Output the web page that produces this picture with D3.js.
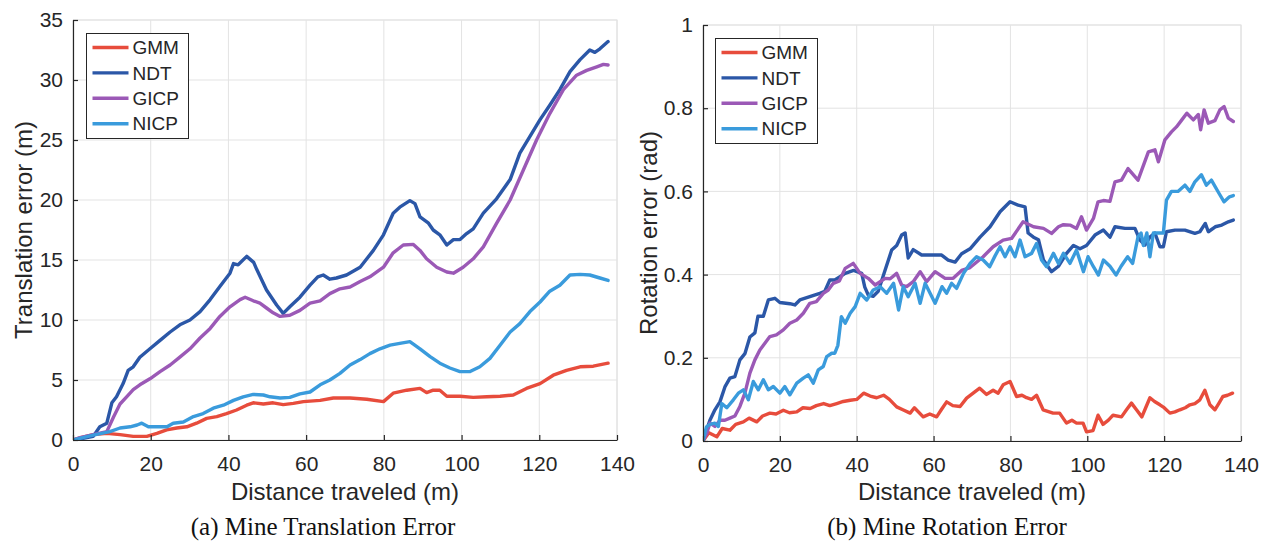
<!DOCTYPE html>
<html>
<head>
<meta charset="utf-8">
<script src="https://cdn.jsdelivr.net/npm/d3@7/dist/d3.min.js"></script>
<style>
  body { margin: 0; background: #fff; }
  svg text { font-family: "Liberation Sans", Arial, Helvetica, sans-serif; fill: #262626; }
  svg text.caption { font-family: "Liberation Serif", "Times New Roman", serif; fill: #111; }
</style>
</head>
<body>
<div id="chart"></div>
<script>
// series names + colours
const methods = ["GMM", "NDT", "GICP", "NICP"];
const colors = ["#e74c3c", "#2b57a7", "#9b59b6", "#3a9bdc"];

// ticks
const xTicks = [0, 20, 40, 60, 80, 100, 120, 140];
const yTicksTrans = [0, 5, 10, 15, 20, 25, 30, 35];
const yTicksRot = [0, 0.2, 0.4, 0.6, 0.8, 1];
const yTickLabelsRot = ["0", "0.2", "0.4", "0.6", "0.8", "1"];

// (a) translation error, [distance m, error m]
const transGMM = [[0,0],[2,0.2],[5.2,0.45],[8.7,0.55],[12.1,0.45],[15.5,0.3],[19,0.3],[21.6,0.55],[24.1,0.85],[26.7,1.0],[29.3,1.1],[31.8,1.4],[34.4,1.8],[37,1.95],[39.5,2.2],[42.1,2.5],[44.7,2.9],[46.4,3.1],[49,3.0],[51.5,3.1],[54.1,2.95],[56.7,3.05],[59.3,3.2],[63.6,3.3],[67,3.5],[71.3,3.5],[75.6,3.4],[79.9,3.2],[82.4,3.9],[85.9,4.15],[89.3,4.3],[91,3.95],[92.7,4.15],[94.4,4.15],[96.2,3.65],[99.6,3.65],[103,3.55],[106.5,3.6],[109.9,3.65],[113.3,3.75],[116.7,4.3],[120.2,4.7],[123.6,5.4],[127,5.8],[130.5,6.1],[133.9,6.15],[137.7,6.4]];
const transNDT = [[0,0],[2,0.1],[5.2,0.3],[6.9,1.1],[8.7,1.4],[10,3.1],[11.2,3.6],[12.9,4.7],[14.2,5.8],[15.5,6.1],[17.2,6.9],[19.8,7.6],[22.4,8.3],[25,9.0],[27.5,9.6],[30.1,10.0],[32.7,10.7],[35.3,11.7],[37.8,12.8],[40.4,13.9],[41.3,14.7],[42.5,14.6],[44.7,15.3],[46.5,14.8],[47.3,14.2],[49.8,12.5],[52.4,11.25],[54.1,10.55],[55.8,11.1],[58.4,11.9],[61,12.9],[63,13.6],[64.4,13.75],[66.1,13.4],[67.8,13.5],[70.4,13.75],[73.9,14.4],[77.3,15.8],[79.9,17.1],[82.4,18.9],[84.1,19.4],[86.7,19.95],[88,19.7],[89.3,18.6],[91.4,18.1],[92.7,17.5],[94.4,17.1],[96.2,16.25],[97.9,16.7],[99.6,16.7],[101.3,17.2],[103,17.6],[105.6,18.9],[109,20.1],[112.5,21.7],[115,23.9],[117.6,25.3],[120.2,26.7],[122.7,27.9],[125.3,29.2],[127.9,30.7],[130.5,31.7],[133,32.5],[134.3,32.3],[135.6,32.6],[137.7,33.2]];
const transGICP = [[0,0],[1.8,0.2],[5.2,0.45],[8.7,0.7],[10.4,1.9],[12.1,3.0],[13.8,3.6],[15.5,4.2],[17.2,4.6],[19.8,5.1],[22.4,5.7],[25,6.25],[27.5,6.9],[30.1,7.6],[32.7,8.5],[35.3,9.3],[37.8,10.3],[40.4,11.1],[43,11.7],[44.3,11.9],[46.4,11.6],[48.1,11.4],[49.8,11.0],[51.5,10.6],[53.3,10.3],[55.8,10.4],[58.4,10.8],[61,11.4],[63.6,11.6],[66.1,12.2],[68.7,12.6],[71.3,12.75],[73.9,13.2],[76.4,13.6],[79.9,14.4],[82.4,15.6],[85,16.25],[87.6,16.3],[89.3,15.8],[91,15.1],[93.6,14.4],[96.2,14.0],[97.9,13.9],[100.4,14.4],[103,15.1],[105.6,16.1],[109,18.05],[112.5,20.0],[115.9,22.5],[119.3,25],[122.7,27.2],[126.2,29.2],[129.6,30.4],[132.2,30.8],[134.8,31.1],[136.5,31.3],[137.7,31.25]];
const transNICP = [[0,0],[2.5,0.2],[5.2,0.4],[9.5,0.7],[12.1,1.0],[14.7,1.1],[16.5,1.25],[17.7,1.4],[19.4,1.1],[22.4,1.1],[24.2,1.1],[25.8,1.4],[28.4,1.5],[31,1.95],[33.5,2.2],[36.1,2.65],[38.7,2.9],[41.3,3.3],[43.8,3.6],[46.4,3.8],[49,3.75],[50.7,3.6],[53.3,3.5],[55.8,3.55],[58.4,3.85],[61,4.0],[63.6,4.6],[66.1,5.0],[68.7,5.55],[71.3,6.25],[73.9,6.7],[76.4,7.2],[79,7.6],[81.6,7.9],[84.1,8.05],[86.7,8.2],[89.3,7.6],[91.9,6.95],[94.4,6.4],[97,6.0],[99.6,5.7],[102.2,5.7],[104.7,6.1],[107.3,6.8],[109.9,7.9],[112.5,9.0],[115,9.7],[117.6,10.7],[120.2,11.5],[122.7,12.4],[125.3,12.9],[127.9,13.75],[130.5,13.8],[133,13.75],[135.6,13.5],[137.7,13.3]];

// (b) rotation error, [distance m, error rad]
const rotGMM = [[0,0],[1.5,0.02],[3.6,0.01],[5,0.03],[7,0.026],[8.5,0.04],[10.5,0.046],[12,0.055],[14,0.046],[15.5,0.06],[17.4,0.067],[19,0.065],[20.9,0.074],[22.5,0.068],[24.4,0.07],[26,0.08],[27.9,0.078],[29.5,0.085],[31.4,0.09],[33,0.085],[34.8,0.09],[36.5,0.095],[38.3,0.098],[40,0.1],[41.8,0.115],[43.5,0.108],[45.2,0.104],[47,0.11],[48.5,0.1],[50.4,0.082],[52,0.075],[53.9,0.067],[55,0.08],[57.3,0.058],[59,0.065],[60.8,0.058],[62,0.075],[63.4,0.094],[65,0.085],[66.9,0.083],[68.6,0.103],[70.3,0.115],[72,0.127],[73.8,0.112],[75.5,0.122],[76.8,0.115],[78.1,0.135],[79.9,0.143],[81.6,0.107],[83,0.11],[84.2,0.104],[85.5,0.1],[86.8,0.11],[88.5,0.075],[91.1,0.067],[92.8,0.067],[94.6,0.043],[96,0.05],[97.2,0.043],[98.9,0.043],[99.8,0.022],[101.5,0.025],[102.8,0.062],[104.1,0.04],[105.5,0.05],[106.7,0.062],[108.9,0.058],[110.2,0.075],[111.5,0.091],[112.8,0.075],[114.2,0.058],[115.2,0.08],[116.3,0.104],[117.5,0.095],[118.9,0.087],[120,0.08],[121.5,0.067],[122.8,0.07],[124.1,0.075],[125.5,0.08],[126.7,0.087],[128,0.09],[129.3,0.099],[130.6,0.122],[131.9,0.087],[133.2,0.075],[134.2,0.09],[135.3,0.107],[136.5,0.11],[137.8,0.115]];
const rotNDT = [[0,0],[1.8,0.05],[3.1,0.075],[4.4,0.094],[5.7,0.13],[7,0.151],[8.3,0.155],[9.6,0.195],[10.9,0.21],[12.2,0.25],[13.5,0.26],[14.3,0.30],[15.7,0.30],[17,0.339],[18.7,0.343],[20,0.333],[22.6,0.33],[23.9,0.327],[25.2,0.339],[27.8,0.347],[30.4,0.355],[31.7,0.36],[33,0.387],[34.3,0.387],[37,0.403],[39.2,0.41],[41.3,0.403],[42.1,0.37],[43,0.351],[44.3,0.348],[45.6,0.36],[47.4,0.411],[49.1,0.459],[50.4,0.47],[51.7,0.495],[52.6,0.5],[53.4,0.44],[54.7,0.46],[56.9,0.447],[59.5,0.447],[62.1,0.447],[63.8,0.435],[65.6,0.43],[67.3,0.45],[69.5,0.462],[72.1,0.49],[74.7,0.515],[77.3,0.551],[79.9,0.575],[82,0.567],[83.8,0.563],[84.6,0.5],[86,0.49],[87.3,0.484],[88.6,0.435],[90.7,0.407],[92.5,0.42],[94.6,0.451],[96.4,0.47],[98.1,0.462],[99.8,0.47],[102,0.495],[104.2,0.507],[105.9,0.49],[107.2,0.515],[109.8,0.511],[112.4,0.511],[113.7,0.483],[115,0.471],[116.3,0.49],[117.6,0.5],[118.9,0.467],[119.8,0.467],[120.6,0.503],[122.8,0.507],[125.4,0.507],[128,0.499],[129.3,0.503],[130.7,0.523],[131.5,0.503],[133.3,0.515],[135,0.519],[136.7,0.527],[138,0.531]];
const rotGICP = [[0,0],[1,0.019],[1.8,0.043],[3.1,0.035],[4.4,0.05],[5.7,0.05],[7,0.055],[8.3,0.06],[9.6,0.083],[10.9,0.115],[12.2,0.163],[13.5,0.195],[14.8,0.219],[16.1,0.235],[17.4,0.251],[19.1,0.255],[20.9,0.267],[22.6,0.283],[24.4,0.291],[26.1,0.307],[27.8,0.331],[29.5,0.335],[31.3,0.355],[32.6,0.363],[33.9,0.379],[35.5,0.385],[37,0.415],[39.1,0.427],[40.9,0.403],[43,0.391],[44.8,0.375],[47.4,0.391],[48.7,0.39],[50.4,0.403],[51.7,0.375],[53,0.371],[54.7,0.383],[56.5,0.407],[58.2,0.383],[60.4,0.407],[63,0.391],[65.1,0.391],[67.3,0.41],[69.5,0.417],[72.9,0.443],[75.5,0.467],[78.1,0.483],[80.3,0.487],[83.3,0.527],[86,0.515],[88.6,0.511],[90.7,0.499],[92.5,0.515],[93.8,0.52],[95.5,0.519],[97.2,0.511],[98.5,0.539],[99.8,0.507],[101.6,0.535],[102.8,0.575],[104.2,0.578],[105.9,0.576],[107.2,0.623],[108.9,0.627],[110.6,0.655],[113.2,0.627],[115.9,0.695],[117.6,0.7],[118.5,0.671],[120.2,0.724],[121.9,0.743],[123.2,0.755],[124.6,0.772],[125.9,0.788],[127.6,0.772],[128.9,0.785],[129.5,0.748],[130.4,0.796],[131.5,0.764],[133.2,0.77],[134.5,0.796],[135.6,0.804],[136.7,0.776],[138,0.768]];
const rotNICP = [[0,0],[0.9,0.034],[1.8,0.04],[3.1,0.043],[4,0.035],[4.9,0.09],[6.2,0.08],[7.9,0.099],[9.2,0.115],[10.5,0.123],[11.8,0.099],[13.1,0.143],[14.4,0.123],[15.7,0.147],[17,0.123],[18.3,0.131],[20,0.115],[21.3,0.131],[22.6,0.111],[24.4,0.139],[26.1,0.151],[27.4,0.159],[28.7,0.139],[30,0.171],[31.3,0.179],[32.2,0.203],[33.5,0.211],[34.3,0.211],[35.1,0.23],[36,0.299],[37,0.283],[38.3,0.307],[39.6,0.323],[40.9,0.355],[42.6,0.339],[44.3,0.363],[46.1,0.371],[47.8,0.355],[49.6,0.379],[50.9,0.315],[52.1,0.371],[53.4,0.347],[55.2,0.379],[56.5,0.331],[57.8,0.379],[59.1,0.355],[60.4,0.331],[62.2,0.371],[63.4,0.355],[64.7,0.379],[66,0.367],[67.8,0.403],[69.5,0.427],[71.2,0.443],[72.9,0.435],[74.6,0.419],[76,0.445],[77.3,0.467],[78.6,0.443],[79.9,0.467],[81.2,0.443],[82.5,0.483],[83.8,0.443],[85.5,0.451],[86.8,0.475],[88.1,0.435],[89.4,0.419],[91.2,0.451],[92.5,0.427],[93.8,0.451],[95.5,0.427],[97.2,0.459],[99,0.407],[100.2,0.443],[101.6,0.419],[102.9,0.399],[104.2,0.435],[105.9,0.42],[107.5,0.399],[108.8,0.42],[110.5,0.443],[111.8,0.427],[113.2,0.491],[114,0.5],[114.6,0.47],[115.5,0.5],[116.3,0.443],[117.2,0.5],[118.1,0.5],[118.9,0.5],[119.8,0.5],[120.6,0.579],[121.9,0.6],[123.6,0.6],[125.4,0.615],[126.7,0.6],[128,0.623],[129.7,0.64],[131,0.615],[132.3,0.627],[134.3,0.595],[135.6,0.575],[137,0.587],[138,0.59]];

const W = 1270, H = 548;
const axisCol = "#262626", gridCol = "#e3e3e3";

const svg = d3.select("#chart").append("svg")
  .attr("width", W).attr("height", H);

function drawPanel(cfg) {
  var x = d3.scaleLinear().domain([0, 140]).range([cfg.left, cfg.right]);
  var y = d3.scaleLinear().domain(cfg.yDomain).range([cfg.bottom, cfg.top]);
  var g = svg.append("g");

  // grid
  g.selectAll(".vgrid").data(xTicks).enter().append("line")
    .attr("x1", d => x(d)).attr("x2", d => x(d))
    .attr("y1", cfg.top).attr("y2", cfg.bottom)
    .attr("stroke", gridCol).attr("stroke-width", 1);
  g.selectAll(".hgrid").data(cfg.yTicks).enter().append("line")
    .attr("x1", cfg.left).attr("x2", cfg.right)
    .attr("y1", d => y(d)).attr("y2", d => y(d))
    .attr("stroke", gridCol).attr("stroke-width", 1);

  // top / right of the box are light like the grid
  g.append("path")
    .attr("d", `M${cfg.left},${cfg.top}H${cfg.right}V${cfg.bottom}`)
    .attr("fill", "none").attr("stroke", gridCol).attr("stroke-width", 1.2);

  // lines, clipped to the plot box
  var clipId = "clip-" + cfg.id;
  svg.append("clipPath").attr("id", clipId).append("rect")
    .attr("x", cfg.left).attr("y", cfg.top - 2)
    .attr("width", cfg.right - cfg.left).attr("height", cfg.bottom - cfg.top + 2);

  var line = d3.line().x(d => x(d[0])).y(d => y(d[1]));
  var lines = g.append("g").attr("clip-path", `url(#${clipId})`);
  cfg.series.forEach((s, i) => {
    lines.append("path")
      .datum(s)
      .attr("d", line)
      .attr("fill", "none")
      .attr("stroke", colors[i])
      .attr("stroke-width", 3.4)
      .attr("stroke-linejoin", "round")
      .attr("stroke-linecap", "round");
  });

  // axes with inward ticks
  var xAxis = d3.axisBottom(x).tickValues(xTicks).tickSizeInner(-5).tickSizeOuter(0).tickPadding(18);
  var yAxis = d3.axisLeft(y).tickValues(cfg.yTicks).tickSizeInner(-5).tickSizeOuter(0).tickPadding(10)
    .tickFormat((d, i) => cfg.yLabels[i]);

  var gx = g.append("g").attr("transform", `translate(0,${cfg.bottom})`).call(xAxis);
  var gy = g.append("g").attr("transform", `translate(${cfg.left},0)`).call(yAxis);
  [gx, gy].forEach(a => {
    a.select(".domain").attr("stroke", axisCol).attr("stroke-width", 1.2);
    a.selectAll(".tick line").attr("stroke", axisCol).attr("stroke-width", 1.2);
    a.selectAll(".tick text").attr("font-size", 21).attr("fill", axisCol)
      .style("font-family", '"Liberation Sans", Arial, sans-serif');
  });
  gx.selectAll(".tick text").attr("dy", "0.62em");

  // axis titles
  g.append("text")
    .attr("x", (cfg.left + cfg.right) / 2).attr("y", 500)
    .attr("text-anchor", "middle").attr("font-size", 24)
    .text("Distance traveled (m)");
  g.append("text")
    .attr("transform", `translate(${cfg.ylabX},${(cfg.top + cfg.bottom) / 2}) rotate(-90)`)
    .attr("text-anchor", "middle").attr("font-size", 24)
    .text(cfg.ylab);

  // caption
  g.append("text").attr("class", "caption")
    .attr("x", cfg.capX).attr("y", 535)
    .attr("text-anchor", "middle").attr("font-size", 25)
    .text(cfg.caption);

  // legend
  var lg = g.append("g");
  lg.append("rect")
    .attr("x", cfg.leg[0]).attr("y", cfg.leg[1])
    .attr("width", 102).attr("height", 105)
    .attr("fill", "#fff").attr("stroke", axisCol).attr("stroke-width", 1);
  methods.forEach((m, i) => {
    var ly = cfg.leg[1] + 14 + i * 25.4;
    lg.append("line")
      .attr("x1", cfg.leg[0] + 6).attr("x2", cfg.leg[0] + 42)
      .attr("y1", ly).attr("y2", ly)
      .attr("stroke", colors[i]).attr("stroke-width", 3.4);
    lg.append("text")
      .attr("x", cfg.leg[0] + 46).attr("y", ly)
      .attr("dy", "0.35em").attr("font-size", 19)
      .text(m);
  });
}

drawPanel({
  id: "a", left: 73, right: 617, top: 20, bottom: 440,
  yDomain: [0, 35], yTicks: yTicksTrans, yLabels: yTicksTrans.map(String),
  series: [transGMM, transNDT, transGICP, transNICP],
  ylab: "Translation error (m)", ylabX: 32,
  caption: "(a) Mine Translation Error", capX: 323,
  leg: [86.5, 33.5]
});

drawPanel({
  id: "b", left: 703, right: 1241, top: 25, bottom: 441,
  yDomain: [0, 1], yTicks: yTicksRot, yLabels: yTickLabelsRot,
  series: [rotGMM, rotNDT, rotGICP, rotNICP],
  ylab: "Rotation error (rad)", ylabX: 657,
  caption: "(b) Mine Rotation Error", capX: 947,
  leg: [715.5, 38.5]
});
</script>
</body>
</html>
